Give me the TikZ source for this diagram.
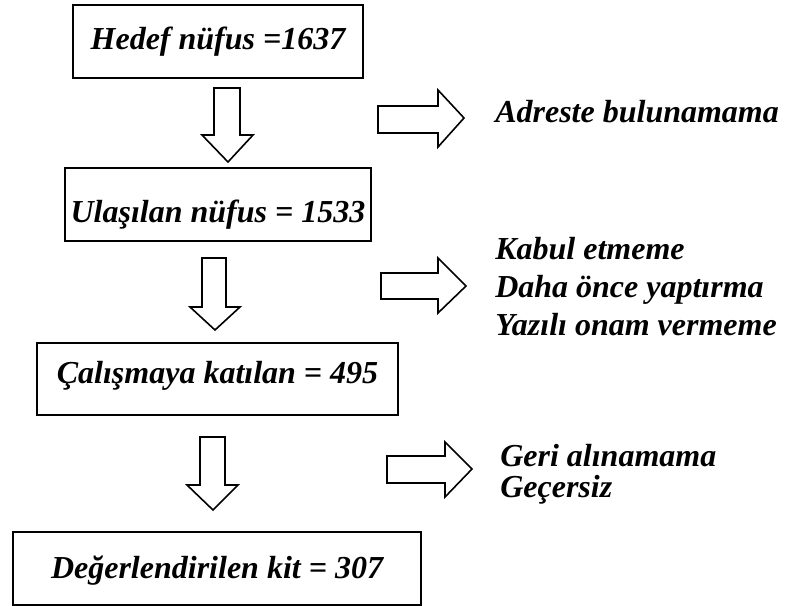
\documentclass[tikz,border=0pt]{standalone}
\usepackage{fontspec}
\setmainfont{Liberation Serif}
\tikzset{
  box/.style={draw, line width=1.2pt, inner sep=0pt, text depth=0pt, font=\bfseries\itshape\fontsize{24}{29}\selectfont},
  side/.style={anchor=base west, inner sep=0pt, font=\bfseries\itshape\fontsize{24}{29}\selectfont},
  blockarrow/.style={draw, line width=1.2pt, fill=white, line join=miter}
}
\begin{document}
\begin{tikzpicture}[x=0.75pt,y=0.75pt,yscale=-1,xscale=1]
\useasboundingbox (0,0) rectangle (792,606);

% Boxes
\node[box, minimum width=217.5pt, minimum height=54.75pt, text height=12.75pt] (hedef) at (218,41.5) {Hedef nüfus =1637};
\node[box, minimum width=229.5pt, minimum height=54.75pt, text height=26.25pt] (ulasilan) at (218,204.5) {Ulaşılan nüfus = 1533};
\node[box, minimum width=270.75pt, minimum height=54pt, text height=6pt] (katilan) at (217.5,379) {Çalışmaya katılan = 495};
\node[box, minimum width=306pt, minimum height=54.75pt, text height=15pt] (kit) at (217,568.5) {Değerlendirilen kit = 307};

%Down Arrow
\draw [blockarrow] (214,88) -- (240,88) -- (240,135) -- (253,135) -- (228,162) -- (202,135) -- (214,135) -- cycle ;
%Down Arrow
\draw [blockarrow] (202,258) -- (226,258) -- (226,307) -- (240,307) -- (215,330) -- (190,307) -- (202,307) -- cycle ;
%Down Arrow
\draw [blockarrow] (200,437) -- (225,437) -- (225,485) -- (238,485) -- (213,510) -- (187,485) -- (200,485) -- cycle ;

%Right Arrow
\draw [blockarrow] (378,106) -- (438,106) -- (438,90) -- (464,118) -- (438,147) -- (438,133) -- (378,133) -- cycle ;
%Right Arrow
\draw [blockarrow] (381,273) -- (438,273) -- (438,258) -- (466,286) -- (438,313) -- (438,299) -- (381,299) -- cycle ;
%Right Arrow
\draw [blockarrow] (387,456) -- (445,456) -- (445,442) -- (472,469) -- (445,497) -- (445,483) -- (387,483) -- cycle ;

% Text Node
\node[side] (adres) at (495,123) {Adreste bulunamama};
% Text Node
\node[side] (kabul) at (495,259) {Kabul etmeme};
\node[side] (daha) at (495,297) {Daha önce yaptırma};
\node[side] (yazili) at (495,335) {Yazılı onam vermeme};
% Text Node
\node[side] (geri) at (500,466) {Geri alınamama};
\node[side] (gecersiz) at (500,497) {Geçersiz};

\end{tikzpicture}
\end{document}
